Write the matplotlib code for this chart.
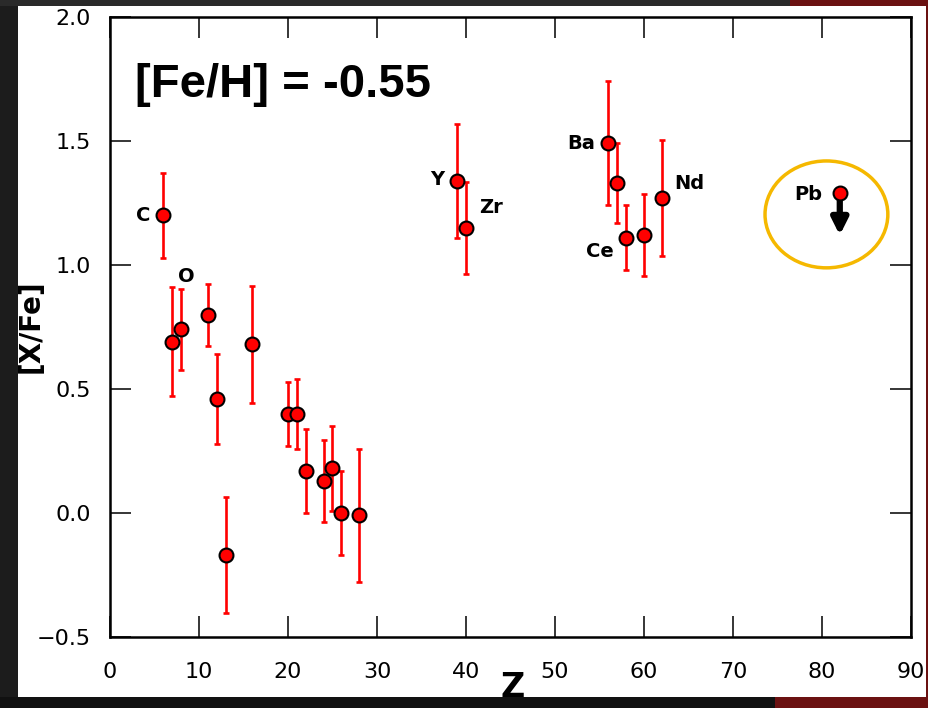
import matplotlib.pyplot as plt
from matplotlib.patches import Rectangle, Ellipse

# Abundances [X/Fe] vs atomic number Z
Z = [6, 7, 8, 11, 12, 13, 16, 20, 21, 22, 24, 25, 26, 28, 39, 40, 56, 57, 58, 60, 62]
XFe = [1.20, 0.69, 0.74, 0.80, 0.46, -0.17, 0.68, 0.40, 0.40, 0.17, 0.13, 0.18, 0.00, -0.01,
       1.34, 1.15, 1.49, 1.33, 1.11, 1.12, 1.27]
err = [0.17, 0.22, 0.165, 0.125, 0.18, 0.235, 0.235, 0.13, 0.14, 0.17, 0.165, 0.17, 0.17, 0.27,
       0.23, 0.185, 0.25, 0.16, 0.13, 0.165, 0.235]

# Pb upper limit
Z_pb, XFe_pb, XFe_pb_arrow = 82, 1.29, 1.12

# element labels (text, x, y)
labels = [('C', 3.7, 1.20), ('O', 8.55, 0.955), ('Y', 36.8, 1.343), ('Zr', 42.85, 1.232),
          ('Ba', 53.0, 1.49), ('Ce', 55.0, 1.056), ('Nd', 65.1, 1.327), ('Pb', 78.5, 1.284)]

fig = plt.figure(figsize=(9.29, 7.08), dpi=100, facecolor='white')
ax = fig.add_axes([0.1184, 0.1003, 0.8622, 0.8757])

ax.errorbar(Z, XFe, yerr=err, fmt='none', ecolor='red', elinewidth=1.9,
            capsize=2.5, capthick=1.9, zorder=2)
ax.plot(Z, XFe, 'o', ms=10, mfc='red', mec='black', mew=1.5, zorder=3)

ax.annotate('', xy=(Z_pb, XFe_pb_arrow), xytext=(Z_pb, XFe_pb),
            arrowprops=dict(arrowstyle='-|>', lw=4.5, color='black', mutation_scale=24,
                            shrinkA=0, shrinkB=0), zorder=2)
ax.plot([Z_pb], [XFe_pb], 'o', ms=10, mfc='red', mec='black', mew=1.5, zorder=4)

ax.add_patch(Ellipse((80.5, 1.204), 13.8, 0.431, fill=False, ec='#f5b800', lw=2.5, zorder=5))

for txt, x, y in labels:
    ax.text(x, y, txt, fontsize=14, fontweight='bold', ha='center', va='center')

ax.text(2.8, 1.677, '[Fe/H] = -0.55', fontsize=34, fontweight='bold',
        family=['Liberation Sans', 'DejaVu Sans'], ha='left', va='baseline')

ax.set_xlim(0, 90)
ax.set_ylim(-0.5, 2.0)
ax.set_xticks(range(0, 91, 10))
ax.set_yticks([-0.5, 0.0, 0.5, 1.0, 1.5, 2.0])
ax.tick_params(direction='in', length=15, width=1.1, labelsize=16, top=True, right=True)
ax.tick_params(axis='x', pad=18)
ax.tick_params(axis='y', pad=14)
for s in ax.spines.values():
    s.set_linewidth(1.8)

ax.set_xlabel('Z', fontsize=24, fontweight='bold')
ax.set_ylabel('[X/Fe]', fontsize=20, fontweight='bold')
ax.xaxis.set_label_coords(0.5025, -0.055)
ax.yaxis.set_label_coords(-0.081, 0.502)

# slide frame around the chart
dark = '#1c1c1c'
red = '#6b1111'
fig.patches.append(Rectangle((0, 0), 18 / 929, 1, transform=fig.transFigure, fc=dark, ec='none', zorder=10))
fig.patches.append(Rectangle((0, 1 - 6 / 708), 1, 6 / 708, transform=fig.transFigure, fc='#2a2a2a', ec='none', zorder=10))
fig.patches.append(Rectangle((0, 0), 1, 11 / 708, transform=fig.transFigure, fc='#111111', ec='none', zorder=10))
fig.patches.append(Rectangle((790 / 929, 1 - 6 / 708), 139 / 929, 6 / 708, transform=fig.transFigure, fc=red, ec='none', zorder=11))
fig.patches.append(Rectangle((775 / 929, 0), 154 / 929, 11 / 708, transform=fig.transFigure, fc=red, ec='none', zorder=11))
fig.patches.append(Rectangle((926 / 929, 0), 3 / 929, 1, transform=fig.transFigure, fc=red, ec='none', zorder=11))

fig.savefig('out.png', dpi=100, facecolor=fig.get_facecolor())
